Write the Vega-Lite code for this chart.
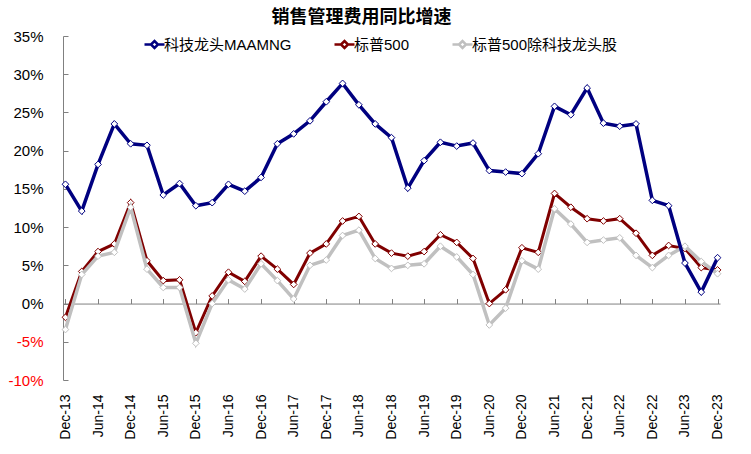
{
  "$schema": "https://vega.github.io/schema/vega-lite/v6.json",
  "autosize": {"type": "none"},
  "padding": {"left": 63, "top": 36, "right": 31, "bottom": 74},
  "width": 657,
  "height": 344,
  "title": {
    "text": "销售管理费用同比增速",
    "font": "Noto Sans CJK SC",
    "fontSize": 18,
    "fontWeight": "bold",
    "color": "#000000",
    "anchor": "middle",
    "frame": "group",
    "dx": -30,
    "offset": 2
  },
  "config": {
    "view": {"stroke": null},
    "font": "Liberation Sans"
  },
  "data": {
    "values": [
      {"q": "Dec-13", "科技龙头MAAMNG": 15.6, "标普500": -1.8, "标普500除科技龙头股": -3.4},
      {"q": "Mar-14", "科技龙头MAAMNG": 12.1, "标普500": 4.2, "标普500除科技龙头股": 3.8},
      {"q": "Jun-14", "科技龙头MAAMNG": 18.2, "标普500": 6.8, "标普500除科技龙头股": 6.2},
      {"q": "Sep-14", "科技龙头MAAMNG": 23.5, "标普500": 7.8, "标普500除科技龙头股": 6.7},
      {"q": "Dec-14", "科技龙头MAAMNG": 20.9, "标普500": 13.2, "标普500除科技龙头股": 12.6},
      {"q": "Mar-15", "科技龙头MAAMNG": 20.7, "标普500": 5.6, "标普500除科技龙头股": 4.5},
      {"q": "Jun-15", "科技龙头MAAMNG": 14.2, "标普500": 3.0, "标普500除科技龙头股": 2.1},
      {"q": "Sep-15", "科技龙头MAAMNG": 15.7, "标普500": 3.1, "标普500除科技龙头股": 2.1},
      {"q": "Dec-15", "科技龙头MAAMNG": 12.8, "标普500": -3.8, "标普500除科技龙头股": -5.2},
      {"q": "Mar-16", "科技龙头MAAMNG": 13.2, "标普500": 1.0, "标普500除科技龙头股": 0.0},
      {"q": "Jun-16", "科技龙头MAAMNG": 15.6, "标普500": 4.1, "标普500除科技龙头股": 3.1},
      {"q": "Sep-16", "科技龙头MAAMNG": 14.7, "标普500": 2.9, "标普500除科技龙头股": 1.9},
      {"q": "Dec-16", "科技龙头MAAMNG": 16.5, "标普500": 6.2, "标普500除科技龙头股": 5.2},
      {"q": "Mar-17", "科技龙头MAAMNG": 20.9, "标普500": 4.5, "标普500除科技龙头股": 3.0},
      {"q": "Jun-17", "科技龙头MAAMNG": 22.2, "标普500": 2.5, "标普500除科技龙头股": 0.6},
      {"q": "Sep-17", "科技龙头MAAMNG": 23.9, "标普500": 6.6, "标普500除科技龙头股": 5.0},
      {"q": "Dec-17", "科技龙头MAAMNG": 26.4, "标普500": 7.8, "标普500除科技龙头股": 5.7},
      {"q": "Mar-18", "科技龙头MAAMNG": 28.8, "标普500": 10.8, "标普500除科技龙头股": 8.9},
      {"q": "Jun-18", "科技龙头MAAMNG": 26.0, "标普500": 11.4, "标普500除科技龙头股": 9.6},
      {"q": "Sep-18", "科技龙头MAAMNG": 23.5, "标普500": 7.8, "标普500除科技龙头股": 5.9},
      {"q": "Dec-18", "科技龙头MAAMNG": 21.7, "标普500": 6.6, "标普500除科技龙头股": 4.6},
      {"q": "Mar-19", "科技龙头MAAMNG": 15.1, "标普500": 6.2, "标普500除科技龙头股": 5.0},
      {"q": "Jun-19", "科技龙头MAAMNG": 18.7, "标普500": 6.8, "标普500除科技龙头股": 5.2},
      {"q": "Sep-19", "科技龙头MAAMNG": 21.1, "标普500": 9.0, "标普500除科技龙头股": 7.5},
      {"q": "Dec-19", "科技龙头MAAMNG": 20.6, "标普500": 8.0, "标普500除科技龙头股": 6.1},
      {"q": "Mar-20", "科技龙头MAAMNG": 21.0, "标普500": 5.9, "标普500除科技龙头股": 3.8},
      {"q": "Jun-20", "科技龙头MAAMNG": 17.4, "标普500": 0.0, "标普500除科技龙头股": -2.8},
      {"q": "Sep-20", "科技龙头MAAMNG": 17.2, "标普500": 1.8, "标普500除科技龙头股": -0.6},
      {"q": "Dec-20", "科技龙头MAAMNG": 17.0, "标普500": 7.3, "标普500除科技龙头股": 5.6},
      {"q": "Mar-21", "科技龙头MAAMNG": 19.6, "标普500": 6.7, "标普500除科技龙头股": 4.5},
      {"q": "Jun-21", "科技龙头MAAMNG": 25.8, "标普500": 14.4, "标普500除科技龙头股": 12.4},
      {"q": "Sep-21", "科技龙头MAAMNG": 24.7, "标普500": 12.6, "标普500除科技龙头股": 10.4},
      {"q": "Dec-21", "科技龙头MAAMNG": 28.2, "标普500": 11.1, "标普500除科技龙头股": 8.0},
      {"q": "Mar-22", "科技龙头MAAMNG": 23.6, "标普500": 10.8, "标普500除科技龙头股": 8.3},
      {"q": "Jun-22", "科技龙头MAAMNG": 23.2, "标普500": 11.1, "标普500除科技龙头股": 8.6},
      {"q": "Sep-22", "科技龙头MAAMNG": 23.5, "标普500": 9.2, "标普500除科技龙头股": 6.3},
      {"q": "Dec-22", "科技龙头MAAMNG": 13.5, "标普500": 6.3, "标普500除科技龙头股": 4.7},
      {"q": "Mar-23", "科技龙头MAAMNG": 12.8, "标普500": 7.6, "标普500除科技龙头股": 6.3},
      {"q": "Jun-23", "科技龙头MAAMNG": 5.3, "标普500": 7.2, "标普500除科技龙头股": 7.5},
      {"q": "Sep-23", "科技龙头MAAMNG": 1.5, "标普500": 4.7, "标普500除科技龙头股": 5.5},
      {"q": "Dec-23", "科技龙头MAAMNG": 6.0, "标普500": 4.4, "标普500除科技龙头股": 3.9}
    ]
  },
  "transform": [
    {"fold": ["科技龙头MAAMNG", "标普500", "标普500除科技龙头股"], "as": ["series", "v"]}
  ],
  "encoding": {
    "color": {
      "field": "series",
      "type": "nominal",
      "scale": {
        "domain": ["科技龙头MAAMNG", "标普500", "标普500除科技龙头股"],
        "range": ["#000080", "#800000", "#C0C0C0"]
      },
      "legend": {
        "orient": "none",
        "legendX": 80,
        "legendY": -3,
        "direction": "horizontal",
        "title": null,
        "symbolType": "M-1,0L-0.35,0M0.35,0L1,0M-0.35,0L0,-0.35L0.35,0L0,0.35Z",
        "symbolSize": 400,
        "symbolStrokeWidth": 2.5,
        "symbolFillColor": "white",
        "labelFont": "Liberation Sans, Noto Sans CJK SC",
        "labelFontSize": 15,
        "labelColor": "#000000",
        "labelOffset": -2,
        "columnPadding": 37,
        "labelLimit": 300
      }
    }
  },
  "resolve": {"axis": {"x": "independent", "y": "independent"}},
  "layer": [
    {
      "transform": [{"filter": "datum.series === '标普500'"}],
      "mark": {"type": "line", "strokeWidth": 3},
      "encoding": {
        "x": {
          "field": "q", "type": "ordinal", "sort": null,
          "scale": {"type": "point", "padding": 0.15},
          "axis": {
            "orient": "bottom",
            "title": null,
            "domain": false,
            "ticks": false,
            "labelAngle": -90,
            "labelAlign": "right",
            "labelBaseline": "middle",
            "labelPadding": 14,
            "labelFont": "Liberation Sans",
            "labelFontSize": 14,
            "labelColor": "#000000",
            "values": ["Dec-13","Jun-14","Dec-14","Jun-15","Dec-15","Jun-16","Dec-16","Jun-17","Dec-17","Jun-18","Dec-18","Jun-19","Dec-19","Jun-20","Dec-20","Jun-21","Dec-21","Jun-22","Dec-22","Jun-23","Dec-23"]
          }
        },
        "y": {
          "field": "v", "type": "quantitative",
          "scale": {"domain": [-10, 35], "nice": false, "zero": false},
          "axis": {
            "title": null,
            "grid": false,
            "values": [-10, -5, 0, 5, 10, 15, 20, 25, 30, 35],
            "labelExpr": "datum.value + '%'",
            "labelFont": "Liberation Sans",
            "labelFontSize": 15,
            "labelColor": {"condition": {"test": "datum.value < 0", "value": "#FF0000"}, "value": "#000000"},
            "domainColor": "#808080",
            "tickColor": "#808080",
            "tickSize": -5,
            "labelPadding": 25
          }
        }
      }
    },
    {
      "transform": [{"filter": "datum.series === '标普500'"}],
      "mark": {"type": "point", "shape": "diamond", "filled": false, "fill": "white", "fillOpacity": 1, "strokeWidth": 1, "size": 45, "opacity": 1},
      "encoding": {
        "x": {
          "field": "q", "type": "ordinal", "sort": null,
          "axis": {
            "orient": "top",
            "offset": -267.56,
            "title": null,
            "labels": false,
            "domain": true,
            "domainColor": "#808080",
            "ticks": true,
            "tickColor": "#808080",
            "tickSize": 5,
            "values": ["Dec-13","Jun-14","Dec-14","Jun-15","Dec-15","Jun-16","Dec-16","Jun-17","Dec-17","Jun-18","Dec-18","Jun-19","Dec-19","Jun-20","Dec-20","Jun-21","Dec-21","Jun-22","Dec-22","Jun-23","Dec-23"]
          }
        },
        "y": {"field": "v", "type": "quantitative", "axis": null}
      }
    },
    {
      "transform": [{"filter": "datum.series === '标普500除科技龙头股'"}],
      "mark": {"type": "line", "strokeWidth": 3.5},
      "encoding": {
        "x": {"field": "q", "type": "ordinal", "sort": null, "axis": null},
        "y": {"field": "v", "type": "quantitative", "axis": null}
      }
    },
    {
      "transform": [{"filter": "datum.series === '标普500除科技龙头股'"}],
      "mark": {"type": "point", "shape": "diamond", "filled": false, "fill": "white", "fillOpacity": 1, "strokeWidth": 1, "size": 45, "opacity": 1},
      "encoding": {
        "x": {"field": "q", "type": "ordinal", "sort": null, "axis": null},
        "y": {"field": "v", "type": "quantitative", "axis": null}
      }
    },
    {
      "transform": [{"filter": "datum.series === '科技龙头MAAMNG'"}],
      "mark": {"type": "line", "strokeWidth": 3.5},
      "encoding": {
        "x": {"field": "q", "type": "ordinal", "sort": null, "axis": null},
        "y": {"field": "v", "type": "quantitative", "axis": null}
      }
    },
    {
      "transform": [{"filter": "datum.series === '科技龙头MAAMNG'"}],
      "mark": {"type": "point", "shape": "diamond", "filled": false, "fill": "white", "fillOpacity": 1, "strokeWidth": 1, "size": 45, "opacity": 1},
      "encoding": {
        "x": {"field": "q", "type": "ordinal", "sort": null, "axis": null},
        "y": {"field": "v", "type": "quantitative", "axis": null}
      }
    }
  ]
}
